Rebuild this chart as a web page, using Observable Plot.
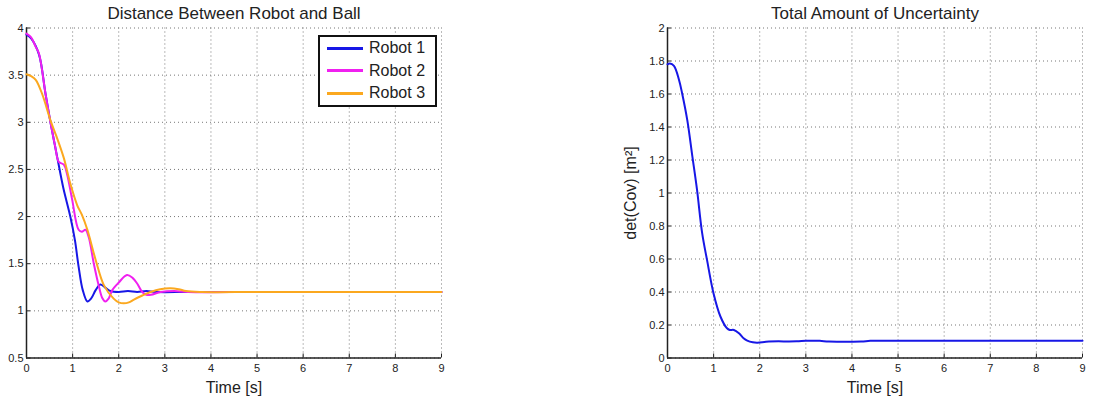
<!DOCTYPE html>
<html><head><meta charset="utf-8">
<script src="https://cdn.jsdelivr.net/npm/d3@7"></script>
<script src="https://cdn.jsdelivr.net/npm/@observablehq/plot@0.6"></script>
<style>
body{margin:0;background:#fff;font-family:"Liberation Sans",Arial,sans-serif;}
#wrap{position:relative;width:1093px;height:403px;overflow:hidden;background:#fff}
#left{position:absolute;left:0;top:0}
#right{position:absolute;left:620px;top:0}
#legend{position:absolute;left:318px;top:35px;width:115px;height:68px;border:2px solid #111;background:#fff;}
.row{position:absolute;left:0;height:22px;display:flex;align-items:center;font-size:16px;color:#222;white-space:nowrap}
.sw{display:inline-block;width:36px;height:3px;margin-left:7px;margin-right:6px}
</style></head>
<body>
<div id="wrap"><div id="left"></div><div id="right"></div><div id="legend"></div></div>
<script>
// ---- data ----
const leftTitle = "Distance Between Robot and Ball";
const rightTitle = "Total Amount of Uncertainty";
const xLabel = "Time [s]";
const rightYLabel = "det(Cov) [m²]";
const xTicks = [0,1,2,3,4,5,6,7,8,9];
const yTicksLeft = [0.5,1,1.5,2,2.5,3,3.5,4];
const yTicksRight = [0,0.2,0.4,0.6,0.8,1,1.2,1.4,1.6,1.8,2];
const seriesNames = ["Robot 1","Robot 2","Robot 3"];
const seriesColors = ["#1717e6","#f020f0","#fba81f"];

const robot1T = [0,0.1,0.27,0.41,0.52,0.67,0.8,0.95,1.05,1.13,1.22,1.32,1.4,1.5,1.6,1.7,1.82,2.0,2.2,2.4,2.6,2.8,3.5,5,7,9];
const robot1V = [3.93,3.89,3.72,3.31,3.0,2.62,2.3,2.0,1.75,1.47,1.22,1.10,1.13,1.22,1.28,1.25,1.21,1.20,1.21,1.20,1.21,1.20,1.20,1.20,1.20,1.20];
const robot2T = [0,0.1,0.2,0.27,0.41,0.52,0.62,0.70,0.81,0.88,0.99,1.13,1.2,1.28,1.35,1.46,1.57,1.64,1.71,1.78,1.86,2.0,2.18,2.3,2.4,2.51,2.6,2.7,2.91,3.2,3.5,5,7,9];
const robot2V = [3.94,3.9,3.8,3.73,3.31,3.0,2.75,2.58,2.55,2.45,2.18,1.86,1.84,1.86,1.78,1.5,1.26,1.14,1.10,1.13,1.22,1.30,1.38,1.35,1.29,1.20,1.17,1.17,1.20,1.21,1.20,1.20,1.20,1.20];
const robot3T = [0,0.1,0.2,0.34,0.52,0.65,0.81,0.95,1.1,1.2,1.32,1.5,1.68,1.89,2.0,2.11,2.22,2.33,2.5,2.69,2.9,3.12,3.3,3.46,3.8,5,7,9];
const robot3V = [3.51,3.49,3.45,3.3,3.02,2.85,2.62,2.35,2.12,2.02,1.86,1.54,1.27,1.13,1.09,1.08,1.09,1.12,1.16,1.20,1.23,1.24,1.23,1.21,1.20,1.20,1.20,1.20];
const uncT = [0,0.05,0.14,0.25,0.32,0.43,0.54,0.64,0.75,0.86,1.0,1.15,1.29,1.35,1.44,1.55,1.65,1.73,1.85,1.95,2.1,2.2,2.8,3.0,3.3,3.5,4.2,4.4,5,6,7,8,9];
const uncV = [1.78,1.785,1.77,1.685,1.60,1.44,1.22,1.02,0.76,0.59,0.39,0.25,0.18,0.17,0.17,0.15,0.12,0.105,0.095,0.093,0.097,0.10,0.101,0.104,0.104,0.10,0.10,0.104,0.105,0.105,0.105,0.105,0.105];

// ---- build ----
const zip = (T, V) => T.map((t, i) => ({t, v: V[i]}));
const robots = [zip(robot1T, robot1V), zip(robot2T, robot2V), zip(robot3T, robot3V)];
const unc = zip(uncT, uncV);
const fmt = d => String(d);
const font = "Liberation Sans, Arial, sans-serif";

function frameMarks(yTicks, yMin) {
  return [
    Plot.ruleX(xTicks, {x: d => d, stroke: "#777", strokeDasharray: "1,3", strokeWidth: 1}),
    Plot.ruleY(yTicks, {y: d => d, stroke: "#777", strokeDasharray: "1,3", strokeWidth: 1}),
    Plot.axisX({ticks: xTicks, tickSize: 0, tickPadding: 6, tickFormat: fmt, label: null, fontSize: 11}),
    Plot.axisX({ticks: xTicks, tickSize: 4, dy: -4, text: null, label: null, stroke: "#222"}),
    Plot.axisY({ticks: yTicks, tickSize: 0, tickPadding: 3, tickFormat: fmt, label: null, fontSize: 11}),
    Plot.axisY({ticks: yTicks, tickSize: 4, dx: 4, text: null, label: null, stroke: "#222"}),
    Plot.ruleX([0], {x: d => d, stroke: "#222", strokeWidth: 1.5}),
    Plot.ruleY([yMin], {y: d => d, stroke: "#222", strokeWidth: 1.5})
  ];
}

const left = Plot.plot({
  width: 460, height: 403,
  marginLeft: 26, marginRight: 19, marginTop: 27.5, marginBottom: 45.5,
  style: {fontFamily: font, fontSize: "11px", color: "#222", background: "transparent", overflow: "visible"},
  x: {domain: [0, 9]},
  y: {domain: [0.5, 4]},
  marks: [
    ...frameMarks(yTicksLeft, 0.5),
    ...robots.map((r, i) => Plot.line(r, {x: "t", y: "v", stroke: seriesColors[i], strokeWidth: 2, curve: "catmull-rom"})),
    Plot.text([leftTitle], {text: d => d, frameAnchor: "top", lineAnchor: "bottom", dy: -9, fontSize: 17}),
    Plot.text([xLabel], {text: d => d, frameAnchor: "bottom", lineAnchor: "bottom", dy: 35, fontSize: 16})
  ]
});
document.getElementById("left").appendChild(left);

const right = Plot.plot({
  width: 473, height: 403,
  marginLeft: 47, marginRight: 11, marginTop: 27.5, marginBottom: 45.5,
  style: {fontFamily: font, fontSize: "11px", color: "#222", background: "transparent", overflow: "visible"},
  x: {domain: [0, 9]},
  y: {domain: [0, 2]},
  marks: [
    ...frameMarks(yTicksRight, 0),
    Plot.line(unc, {x: "t", y: "v", stroke: seriesColors[0], strokeWidth: 2, curve: "catmull-rom"}),
    Plot.text([rightTitle], {text: d => d, frameAnchor: "top", lineAnchor: "bottom", dy: -9, fontSize: 17}),
    Plot.text([xLabel], {text: d => d, frameAnchor: "bottom", lineAnchor: "bottom", dy: 35, fontSize: 16}),
    Plot.text([rightYLabel], {text: d => d, frameAnchor: "left", textAnchor: "middle", lineAnchor: "middle", rotate: -90, dx: -37, fontSize: 16})
  ]
});
document.getElementById("right").appendChild(right);

// legend
const lg = document.getElementById("legend");
const rowTops = [0, 22.5, 45];
seriesNames.forEach((name, i) => {
  const row = document.createElement("div");
  row.className = "row";
  row.style.top = rowTops[i] + "px";
  const sw = document.createElement("span");
  sw.className = "sw";
  sw.style.background = seriesColors[i];
  row.appendChild(sw);
  row.appendChild(document.createTextNode(name));
  lg.appendChild(row);
});
</script>
</body></html>
